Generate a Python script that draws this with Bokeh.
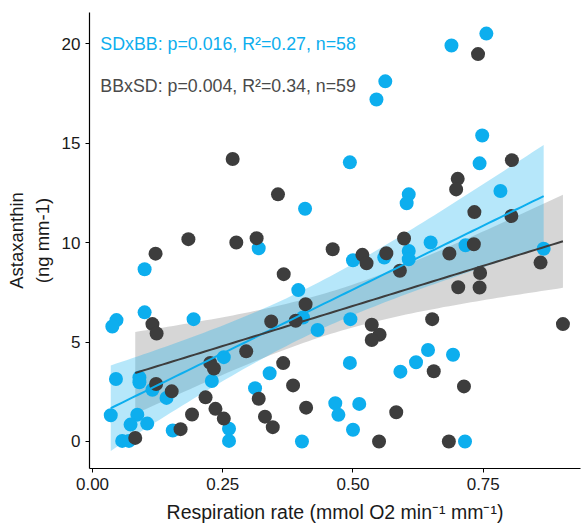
import numpy as np
from bokeh.plotting import figure
from bokeh.models import Label, FixedTicker, NumeralTickFormatter, Range1d
from bokeh.embed import file_html
from bokeh.resources import INLINE

# SDxBB (blue)
sdxbb_x = [0.689, 0.756, 0.562, 0.545, 0.748, 0.494, 0.743, 0.783, 0.607, 0.603,
           0.408, 0.500, 0.607, 0.607, 0.649, 0.716, 0.866, 0.395, 0.404, 0.495,
           0.432, 0.494, 0.644, 0.621, 0.591, 0.692, 0.466, 0.472, 0.512, 0.500,
           0.402, 0.715, 0.319, 0.100, 0.100, 0.194, 0.046, 0.038, 0.252, 0.229,
           0.045, 0.090, 0.090, 0.115, 0.340, 0.312, 0.142, 0.035, 0.086, 0.105,
           0.073, 0.154, 0.262, 0.262, 0.057, 0.070, 0.560]
sdxbb_y = [19.9, 20.5, 18.1, 17.19, 15.38, 14.03, 13.98, 12.59, 12.42, 11.97,
           11.7, 9.11, 9.58, 9.16, 10.0, 9.86, 9.69, 7.61, 6.23, 6.15,
           5.6, 3.95, 4.6, 3.98, 3.51, 4.36, 1.92, 1.34, 1.89, 0.59,
           0.0, 0.0, 9.71, 8.66, 6.49, 6.15, 6.1, 5.78, 4.24, 3.04,
           3.14, 3.22, 2.98, 2.6, 3.43, 2.68, 2.19, 1.32, 1.35, 0.9,
           0.85, 0.55, 0.64, 0.03, 0.03, 0.03, 9.25]

# BBxSD (dark grey)
bbxsd_x = [0.269, 0.356, 0.184, 0.276, 0.315, 0.121, 0.740, 0.805, 0.701, 0.698,
           0.733, 0.804, 0.461, 0.518, 0.526, 0.564, 0.598, 0.590, 0.685, 0.732,
           0.860, 0.744, 0.702, 0.743, 0.409, 0.536, 0.551, 0.536, 0.652, 0.903,
           0.655, 0.713, 0.410, 0.583, 0.550, 0.684, 0.367, 0.115, 0.123, 0.343,
           0.390, 0.295, 0.226, 0.233, 0.122, 0.366, 0.319, 0.385, 0.152, 0.217,
           0.236, 0.252, 0.191, 0.331, 0.346, 0.169, 0.082]
bbxsd_y = [14.2, 12.42, 10.17, 10.0, 10.22, 9.44, 19.47, 14.14, 13.2, 12.67,
           11.53, 11.33, 9.66, 9.38, 8.96, 9.46, 10.2, 8.58, 9.45, 9.91,
           8.99, 8.47, 7.75, 7.74, 6.9, 5.87, 5.37, 5.1, 6.15, 5.9,
           3.53, 2.77, 1.7, 1.47, 0.0, 0.0, 8.41, 5.9, 5.43, 6.03,
           6.07, 4.53, 3.95, 3.67, 2.89, 3.94, 2.15, 2.82, 2.52, 2.22,
           1.64, 1.15, 1.36, 1.25, 0.72, 0.62, 0.18]

x_ticks = [0.0, 0.25, 0.5, 0.75]
y_ticks = [0, 5, 10, 15, 20]
legend_sd = "SDxBB: p=0.016, R\u00b2=0.27, n=58"
legend_bb = "BBxSD: p=0.004, R\u00b2=0.34, n=59"

BLUE = "#0DAEEE"
DARK = "#3d3d3d"
FONT = "Liberation Sans"


def fit(x, y, t):
    x = np.asarray(x, float)
    y = np.asarray(y, float)
    n = len(x)
    b, a = np.polyfit(x, y, 1)
    xs = np.linspace(x.min(), x.max(), 80)
    yh = a + b * xs
    resid = y - (a + b * x)
    s = np.sqrt((resid ** 2).sum() / (n - 2))
    sxx = ((x - x.mean()) ** 2).sum()
    se = s * np.sqrt(1.0 / n + (xs - x.mean()) ** 2 / sxx)
    return xs, yh, yh - t * se, yh + t * se


p = figure(width=583, height=527, output_backend="svg", toolbar_location=None,
           x_range=Range1d(-0.0058, 0.9367), y_range=Range1d(-1.357, 21.56),
           min_border_left=89, min_border_right=3, min_border_top=12,
           min_border_bottom=59)
p.outline_line_color = None
p.xgrid.visible = False
p.ygrid.visible = False
p.background_fill_color = "white"

bx, by, blo, bhi = fit(bbxsd_x, bbxsd_y, 2.002)
sx, sy, slo, shi = fit(sdxbb_x, sdxbb_y, 2.003)

p.varea(x=bx, y1=blo, y2=bhi, fill_color="#999999", fill_alpha=0.4)
p.varea(x=sx, y1=slo, y2=shi, fill_color=BLUE, fill_alpha=0.3)

p.scatter(sdxbb_x, sdxbb_y, size=14, fill_color=BLUE, line_color=None)
p.scatter(bbxsd_x, bbxsd_y, size=14, fill_color=DARK, line_color=None)

p.line(sx, sy, line_color=BLUE, line_width=2)
p.line(bx, by, line_color=DARK, line_width=2)

p.add_layout(Label(x=0.015, y=20.0, text=legend_sd, text_color=BLUE,
                   text_font=FONT, text_font_size="17.8px",
                   text_baseline="middle"))
p.add_layout(Label(x=0.015, y=17.85, text=legend_bb, text_color="#4a4a4a",
                   text_font=FONT, text_font_size="17.8px",
                   text_baseline="middle"))

for ax in (p.xaxis, p.yaxis):
    ax.axis_line_color = "black"
    ax.axis_line_width = 1.2
    ax.major_tick_line_color = "black"
    ax.major_tick_out = 4
    ax.major_tick_in = 0
    ax.minor_tick_line_color = None
    ax.major_label_text_font = FONT
    ax.major_label_text_font_size = "17px"
    ax.major_label_text_color = "#1a1a1a"
    ax.axis_label_text_font = FONT
    ax.axis_label_text_font_size = "18.5px"
    ax.axis_label_text_font_style = "normal"
    ax.axis_label_text_color = "#1a1a1a"

p.xaxis.ticker = FixedTicker(ticks=x_ticks)
p.xaxis.formatter = NumeralTickFormatter(format="0.00")
p.yaxis.ticker = FixedTicker(ticks=y_ticks)
p.xaxis.axis_label = "Respiration rate (mmol O2 min\u207b\u00b9 mm\u207b\u00b9)"
p.xaxis.axis_label_text_font_size = "19.5px"
p.yaxis.axis_label = "Astaxanthin\n(ng mm-1)"
p.xaxis.axis_label_standoff = 8
p.yaxis.axis_label_standoff = 6
p.xaxis.major_label_standoff = 5
p.yaxis.major_label_standoff = 5

open("out.html", "w").write(file_html(p, INLINE))
